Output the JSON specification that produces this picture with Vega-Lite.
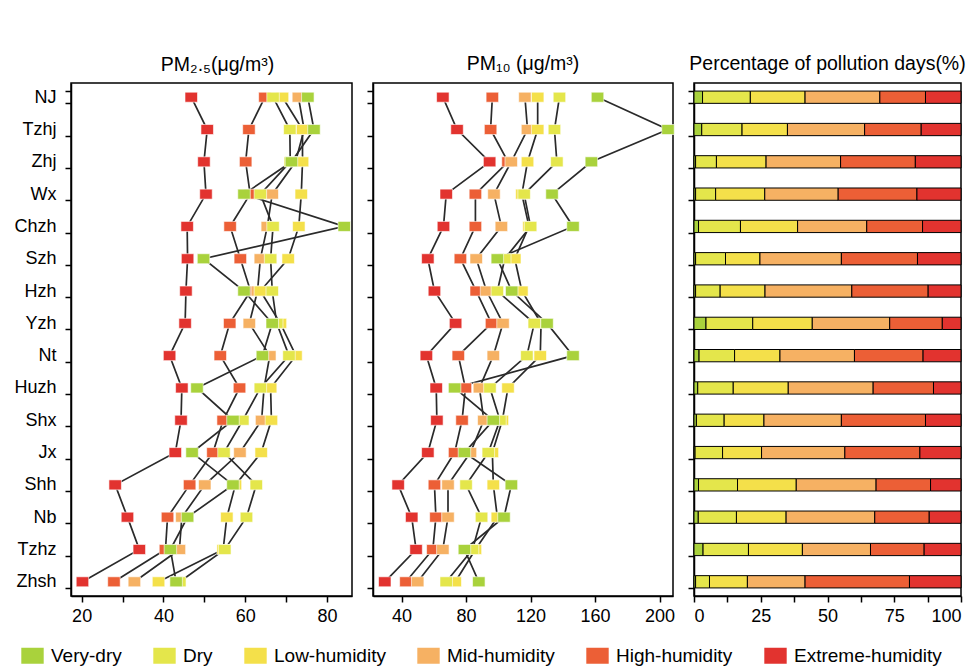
{
"$schema": "https://vega.github.io/schema/vega-lite/v6.json",
"background": "white",
"padding": {"left": 13, "top": 52, "right": 5, "bottom": 2},
"config": {
 "font": "Liberation Sans",
 "view": {"stroke": "black", "strokeWidth": 1.5},
 "axis": {"domainColor": "black", "domainWidth": 1.5, "tickColor": "black", "tickWidth": 1.5, "tickSize": 6, "labelColor": "black", "labelFontSize": 18, "labelFont": "Liberation Sans", "grid": false, "labelPadding": 5},
 "title": {"fontSize": 19.5, "fontWeight": "normal", "font": "Liberation Sans", "offset": 8},
 "legend": {"direction": "horizontal", "labelFontSize": 19, "labelFont": "Liberation Sans", "labelColor": "black", "symbolType": "M-1.4,-1H1.4V1H-1.4Z", "symbolSize": 256, "symbolStrokeWidth": 0, "columnPadding": 31, "labelOffset": 9}
},
"datasets": {"d": [
{"city":"NJ","i":0,"cat":"Very-dry","ci":0,"pm25":75.3,"pm10":161.5,"pct":3.2},
{"city":"NJ","i":0,"cat":"Dry","ci":1,"pm25":66.8,"pm10":137.9,"pct":17.9},
{"city":"NJ","i":0,"cat":"Low-humidity","ci":2,"pm25":69.1,"pm10":124.4,"pct":20.5},
{"city":"NJ","i":0,"cat":"Mid-humidity","ci":3,"pm25":73.0,"pm10":116.5,"pct":28.0},
{"city":"NJ","i":0,"cat":"High-humidity","ci":4,"pm25":64.8,"pm10":96.3,"pct":17.1},
{"city":"NJ","i":0,"cat":"Extreme-humidity","ci":5,"pm25":46.8,"pm10":65.6,"pct":13.3},
{"city":"Tzhj","i":1,"cat":"Very-dry","ci":0,"pm25":76.8,"pm10":205.2,"pct":2.9},
{"city":"Tzhj","i":1,"cat":"Dry","ci":1,"pm25":70.9,"pm10":134.8,"pct":15.1},
{"city":"Tzhj","i":1,"cat":"Low-humidity","ci":2,"pm25":74.0,"pm10":124.4,"pct":17.0},
{"city":"Tzhj","i":1,"cat":"Mid-humidity","ci":3,"pm25":74.4,"pm10":118.1,"pct":28.9},
{"city":"Tzhj","i":1,"cat":"High-humidity","ci":4,"pm25":60.9,"pm10":95.2,"pct":21.2},
{"city":"Tzhj","i":1,"cat":"Extreme-humidity","ci":5,"pm25":50.7,"pm10":74.4,"pct":14.9},
{"city":"Zhj","i":2,"cat":"Very-dry","ci":0,"pm25":71.3,"pm10":157.7,"pct":0.6},
{"city":"Zhj","i":2,"cat":"Dry","ci":1,"pm25":71.0,"pm10":136.3,"pct":7.8},
{"city":"Zhj","i":2,"cat":"Low-humidity","ci":2,"pm25":74.0,"pm10":118.1,"pct":18.6},
{"city":"Zhj","i":2,"cat":"Mid-humidity","ci":3,"pm25":72.3,"pm10":108.0,"pct":27.9},
{"city":"Zhj","i":2,"cat":"High-humidity","ci":4,"pm25":60.1,"pm10":106.0,"pct":28.0},
{"city":"Zhj","i":2,"cat":"Extreme-humidity","ci":5,"pm25":49.9,"pm10":94.6,"pct":17.1},
{"city":"Wx","i":3,"cat":"Very-dry","ci":0,"pm25":59.7,"pm10":133.3,"pct":0.6},
{"city":"Wx","i":3,"cat":"Dry","ci":1,"pm25":63.7,"pm10":116.0,"pct":7.5},
{"city":"Wx","i":3,"cat":"Low-humidity","ci":2,"pm25":73.7,"pm10":114.6,"pct":18.4},
{"city":"Wx","i":3,"cat":"Mid-humidity","ci":3,"pm25":66.6,"pm10":97.3,"pct":27.5},
{"city":"Wx","i":3,"cat":"High-humidity","ci":4,"pm25":61.2,"pm10":85.8,"pct":29.5},
{"city":"Wx","i":3,"cat":"Extreme-humidity","ci":5,"pm25":50.4,"pm10":67.7,"pct":16.5},
{"city":"Chzh","i":4,"cat":"Very-dry","ci":0,"pm25":84.2,"pm10":146.3,"pct":1.7},
{"city":"Chzh","i":4,"cat":"Dry","ci":1,"pm25":66.8,"pm10":120.0,"pct":15.7},
{"city":"Chzh","i":4,"cat":"Low-humidity","ci":2,"pm25":73.1,"pm10":119.0,"pct":21.4},
{"city":"Chzh","i":4,"cat":"Mid-humidity","ci":3,"pm25":65.4,"pm10":101.9,"pct":25.9},
{"city":"Chzh","i":4,"cat":"High-humidity","ci":4,"pm25":56.3,"pm10":85.8,"pct":20.9},
{"city":"Chzh","i":4,"cat":"Extreme-humidity","ci":5,"pm25":45.8,"pm10":66.0,"pct":14.4},
{"city":"Szh","i":5,"cat":"Very-dry","ci":0,"pm25":49.8,"pm10":99.4,"pct":0.6},
{"city":"Szh","i":5,"cat":"Dry","ci":1,"pm25":66.2,"pm10":104.0,"pct":11.2},
{"city":"Szh","i":5,"cat":"Low-humidity","ci":2,"pm25":70.5,"pm10":110.2,"pct":12.9},
{"city":"Szh","i":5,"cat":"Mid-humidity","ci":3,"pm25":63.7,"pm10":86.3,"pct":30.5},
{"city":"Szh","i":5,"cat":"High-humidity","ci":4,"pm25":58.8,"pm10":76.5,"pct":28.5},
{"city":"Szh","i":5,"cat":"Extreme-humidity","ci":5,"pm25":45.9,"pm10":56.3,"pct":16.3},
{"city":"Hzh","i":6,"cat":"Very-dry","ci":0,"pm25":59.7,"pm10":108.3,"pct":0.6},
{"city":"Hzh","i":6,"cat":"Dry","ci":1,"pm25":66.6,"pm10":99.4,"pct":9.2},
{"city":"Hzh","i":6,"cat":"Low-humidity","ci":2,"pm25":63.7,"pm10":114.6,"pct":16.8},
{"city":"Hzh","i":6,"cat":"Mid-humidity","ci":3,"pm25":63.0,"pm10":92.7,"pct":32.5},
{"city":"Hzh","i":6,"cat":"High-humidity","ci":4,"pm25":61.3,"pm10":86.3,"pct":28.6},
{"city":"Hzh","i":6,"cat":"Extreme-humidity","ci":5,"pm25":45.5,"pm10":60.4,"pct":12.3},
{"city":"Yzh","i":7,"cat":"Very-dry","ci":0,"pm25":66.6,"pm10":130.2,"pct":4.5},
{"city":"Yzh","i":7,"cat":"Dry","ci":1,"pm25":67.7,"pm10":122.3,"pct":17.5},
{"city":"Yzh","i":7,"cat":"Low-humidity","ci":2,"pm25":68.6,"pm10":126.5,"pct":22.3},
{"city":"Yzh","i":7,"cat":"Mid-humidity","ci":3,"pm25":61.0,"pm10":102.9,"pct":29.0},
{"city":"Yzh","i":7,"cat":"High-humidity","ci":4,"pm25":56.2,"pm10":95.8,"pct":19.7},
{"city":"Yzh","i":7,"cat":"Extreme-humidity","ci":5,"pm25":45.3,"pm10":73.5,"pct":7.0},
{"city":"Nt","i":8,"cat":"Very-dry","ci":0,"pm25":64.2,"pm10":146.3,"pct":1.9},
{"city":"Nt","i":8,"cat":"Dry","ci":1,"pm25":70.7,"pm10":117.7,"pct":13.3},
{"city":"Nt","i":8,"cat":"Low-humidity","ci":2,"pm25":72.4,"pm10":126.0,"pct":17.0},
{"city":"Nt","i":8,"cat":"Mid-humidity","ci":3,"pm25":66.0,"pm10":96.9,"pct":27.9},
{"city":"Nt","i":8,"cat":"High-humidity","ci":4,"pm25":53.9,"pm10":75.2,"pct":25.7},
{"city":"Nt","i":8,"cat":"Extreme-humidity","ci":5,"pm25":41.5,"pm10":55.4,"pct":14.2},
{"city":"Huzh","i":9,"cat":"Very-dry","ci":0,"pm25":48.2,"pm10":72.9,"pct":1.4},
{"city":"Huzh","i":9,"cat":"Dry","ci":1,"pm25":63.7,"pm10":94.8,"pct":13.3},
{"city":"Huzh","i":9,"cat":"Low-humidity","ci":2,"pm25":66.2,"pm10":106.0,"pct":20.6},
{"city":"Huzh","i":9,"cat":"Mid-humidity","ci":3,"pm25":64.6,"pm10":88.3,"pct":31.8},
{"city":"Huzh","i":9,"cat":"High-humidity","ci":4,"pm25":58.6,"pm10":79.6,"pct":22.6},
{"city":"Huzh","i":9,"cat":"Extreme-humidity","ci":5,"pm25":44.5,"pm10":61.5,"pct":10.3},
{"city":"Shx","i":10,"cat":"Very-dry","ci":0,"pm25":57.0,"pm10":96.9,"pct":0.9},
{"city":"Shx","i":10,"cat":"Dry","ci":1,"pm25":59.4,"pm10":101.0,"pct":10.4},
{"city":"Shx","i":10,"cat":"Low-humidity","ci":2,"pm25":66.4,"pm10":102.5,"pct":14.9},
{"city":"Shx","i":10,"cat":"Mid-humidity","ci":3,"pm25":64.0,"pm10":91.0,"pct":29.0},
{"city":"Shx","i":10,"cat":"High-humidity","ci":4,"pm25":54.6,"pm10":77.5,"pct":31.5},
{"city":"Shx","i":10,"cat":"Extreme-humidity","ci":5,"pm25":44.3,"pm10":61.9,"pct":13.3},
{"city":"Jx","i":11,"cat":"Very-dry","ci":0,"pm25":47.0,"pm10":79.0,"pct":0.4},
{"city":"Jx","i":11,"cat":"Dry","ci":1,"pm25":54.8,"pm10":93.8,"pct":10.3},
{"city":"Jx","i":11,"cat":"Low-humidity","ci":2,"pm25":63.9,"pm10":96.3,"pct":14.6},
{"city":"Jx","i":11,"cat":"Mid-humidity","ci":3,"pm25":58.7,"pm10":82.7,"pct":31.2},
{"city":"Jx","i":11,"cat":"High-humidity","ci":4,"pm25":52.1,"pm10":72.9,"pct":28.1},
{"city":"Jx","i":11,"cat":"Extreme-humidity","ci":5,"pm25":42.9,"pm10":56.3,"pct":15.4},
{"city":"Shh","i":12,"cat":"Very-dry","ci":0,"pm25":57.0,"pm10":108.1,"pct":1.7},
{"city":"Shh","i":12,"cat":"Dry","ci":1,"pm25":62.7,"pm10":80.0,"pct":14.6},
{"city":"Shh","i":12,"cat":"Low-humidity","ci":2,"pm25":57.6,"pm10":96.9,"pct":22.0},
{"city":"Shh","i":12,"cat":"Mid-humidity","ci":3,"pm25":50.1,"pm10":68.8,"pct":29.9},
{"city":"Shh","i":12,"cat":"High-humidity","ci":4,"pm25":46.4,"pm10":60.4,"pct":20.4},
{"city":"Shh","i":12,"cat":"Extreme-humidity","ci":5,"pm25":28.2,"pm10":37.9,"pct":11.4},
{"city":"Nb","i":13,"cat":"Very-dry","ci":0,"pm25":45.9,"pm10":103.5,"pct":1.6},
{"city":"Nb","i":13,"cat":"Dry","ci":1,"pm25":60.3,"pm10":89.6,"pct":14.3},
{"city":"Nb","i":13,"cat":"Low-humidity","ci":2,"pm25":55.5,"pm10":99.4,"pct":18.6},
{"city":"Nb","i":13,"cat":"Mid-humidity","ci":3,"pm25":44.5,"pm10":68.8,"pct":33.2},
{"city":"Nb","i":13,"cat":"High-humidity","ci":4,"pm25":41.0,"pm10":61.3,"pct":20.4},
{"city":"Nb","i":13,"cat":"Extreme-humidity","ci":5,"pm25":31.2,"pm10":46.3,"pct":11.9},
{"city":"Tzhz","i":14,"cat":"Very-dry","ci":0,"pm25":41.7,"pm10":79.0,"pct":3.4},
{"city":"Tzhz","i":14,"cat":"Dry","ci":1,"pm25":55.0,"pm10":84.0,"pct":17.0},
{"city":"Tzhz","i":14,"cat":"Low-humidity","ci":2,"pm25":54.6,"pm10":85.8,"pct":20.2},
{"city":"Tzhz","i":14,"cat":"Mid-humidity","ci":3,"pm25":43.9,"pm10":65.6,"pct":25.5},
{"city":"Tzhz","i":14,"cat":"High-humidity","ci":4,"pm25":40.5,"pm10":59.4,"pct":20.1},
{"city":"Tzhz","i":14,"cat":"Extreme-humidity","ci":5,"pm25":34.1,"pm10":49.0,"pct":13.8},
{"city":"Zhsh","i":15,"cat":"Very-dry","ci":0,"pm25":43.1,"pm10":87.9,"pct":0.6},
{"city":"Zhsh","i":15,"cat":"Dry","ci":1,"pm25":44.0,"pm10":67.7,"pct":5.2},
{"city":"Zhsh","i":15,"cat":"Low-humidity","ci":2,"pm25":38.8,"pm10":73.3,"pct":14.2},
{"city":"Zhsh","i":15,"cat":"Mid-humidity","ci":3,"pm25":32.9,"pm10":50.0,"pct":21.6},
{"city":"Zhsh","i":15,"cat":"High-humidity","ci":4,"pm25":27.9,"pm10":42.7,"pct":39.1},
{"city":"Zhsh","i":15,"cat":"Extreme-humidity","ci":5,"pm25":20.2,"pm10":29.6,"pct":19.3}
]},
"data": {"name": "d"},
"spacing": 21,
"bounds": "flush",
"resolve": {"scale": {"color": "shared"}},
"hconcat": [
 {
  "width": 281, "height": 513,
  "title": {"text": "PM₂.₅(μg/m³)", "offset": -1, "dx": 6},
  "layer": [
   {"mark": {"type": "line", "color": "#2a2a2a", "strokeWidth": 1.7},
    "encoding": {
     "x": {"field": "pm25", "type": "quantitative", "scale": {"domain": [17.4, 86.1], "nice": false, "zero": false}, "axis": {"title": null, "values": [20,30,40,50,60,70,80], "labelExpr": "datum.value % 20 == 0 ? datum.label : ''"}},
     "y": {"field": "city", "type": "nominal", "scale": {"domain": ["NJ","Tzhj","Zhj","Wx","Chzh","Szh","Hzh","Yzh","Nt","Huzh","Shx","Jx","Shh","Nb","Tzhz","Zhsh"], "paddingInner": 0.62, "paddingOuter": 0.25}, "axis": {"title": null, "tickBand": "extent", "labelPadding": 9}},
     "detail": {"field": "cat"},
     "order": {"field": "i"}
    }},
   {"mark": {"type": "point", "filled": true, "opacity": 1, "shape": "M-1.25,-1H1.25V1H-1.25Z", "size": 100, "stroke": "white", "strokeWidth": 0.6},
    "encoding": {
     "x": {"field": "pm25", "type": "quantitative"},
     "y": {"field": "city", "type": "nominal"},
     "color": {"field": "cat", "type": "nominal", "title": null, "scale": {"domain": ["Very-dry","Dry","Low-humidity","Mid-humidity","High-humidity","Extreme-humidity"], "range": ["#A9D23C","#E4E64B","#F4E04A","#F6B163","#EC5F36","#E2332F"]}, "legend": {"orient": "none", "legendX": -48, "legendY": 563, "direction": "horizontal"}},
     "order": {"field": "ci", "sort": "descending"}
    }}
  ]
 },
 {
  "width": 300, "height": 513,
  "title": {"text": "PM₁₀ (μg/m³)", "offset": 9},
  "layer": [
   {"mark": {"type": "line", "color": "#2a2a2a", "strokeWidth": 1.7},
    "encoding": {
     "x": {"field": "pm10", "type": "quantitative", "scale": {"domain": [22.3, 208.3], "nice": false, "zero": false}, "axis": {"title": null, "values": [40,60,80,100,120,140,160,180,200], "labelExpr": "datum.value % 40 == 0 ? datum.label : ''"}},
     "y": {"field": "city", "type": "nominal", "scale": {"domain": ["NJ","Tzhj","Zhj","Wx","Chzh","Szh","Hzh","Yzh","Nt","Huzh","Shx","Jx","Shh","Nb","Tzhz","Zhsh"], "paddingInner": 0.62, "paddingOuter": 0.25}, "axis": {"title": null, "tickBand": "extent", "labels": false}},
     "detail": {"field": "cat"},
     "order": {"field": "i"}
    }},
   {"mark": {"type": "point", "filled": true, "opacity": 1, "shape": "M-1.25,-1H1.25V1H-1.25Z", "size": 100, "stroke": "white", "strokeWidth": 0.6},
    "encoding": {
     "x": {"field": "pm10", "type": "quantitative"},
     "y": {"field": "city", "type": "nominal"},
     "color": {"field": "cat", "type": "nominal", "title": null, "scale": {"domain": ["Very-dry","Dry","Low-humidity","Mid-humidity","High-humidity","Extreme-humidity"], "range": ["#A9D23C","#E4E64B","#F4E04A","#F6B163","#EC5F36","#E2332F"]}, "legend": {"orient": "none", "legendX": -48, "legendY": 563, "direction": "horizontal"}},
     "order": {"field": "ci", "sort": "descending"}
    }}
  ]
 },
 {
  "width": 267, "height": 513,
  "title": {"text": "Percentage of pollution days(%)", "offset": 9},
  "mark": {"type": "bar", "stroke": "black", "strokeWidth": 1},
  "encoding": {
   "x": {"field": "pct", "type": "quantitative", "stack": "zero", "scale": {"domain": [0, 100], "nice": false}, "axis": {"title": null, "values": [0,12.5,25,37.5,50,62.5,75,87.5,100], "labelExpr": "datum.value % 25 == 0 ? datum.label : ''"}},
   "y": {"field": "city", "type": "nominal", "scale": {"domain": ["NJ","Tzhj","Zhj","Wx","Chzh","Szh","Hzh","Yzh","Nt","Huzh","Shx","Jx","Shh","Nb","Tzhz","Zhsh"], "paddingInner": 0.62, "paddingOuter": 0.25}, "axis": {"title": null, "tickBand": "extent", "labels": false}},
   "color": {"field": "cat", "type": "nominal", "title": null, "scale": {"domain": ["Very-dry","Dry","Low-humidity","Mid-humidity","High-humidity","Extreme-humidity"], "range": ["#A9D23C","#E4E64B","#F4E04A","#F6B163","#EC5F36","#E2332F"]}, "legend": {"orient": "none", "legendX": -48, "legendY": 563, "direction": "horizontal"}},
   "order": {"field": "ci"}
  }
 }
]
}
